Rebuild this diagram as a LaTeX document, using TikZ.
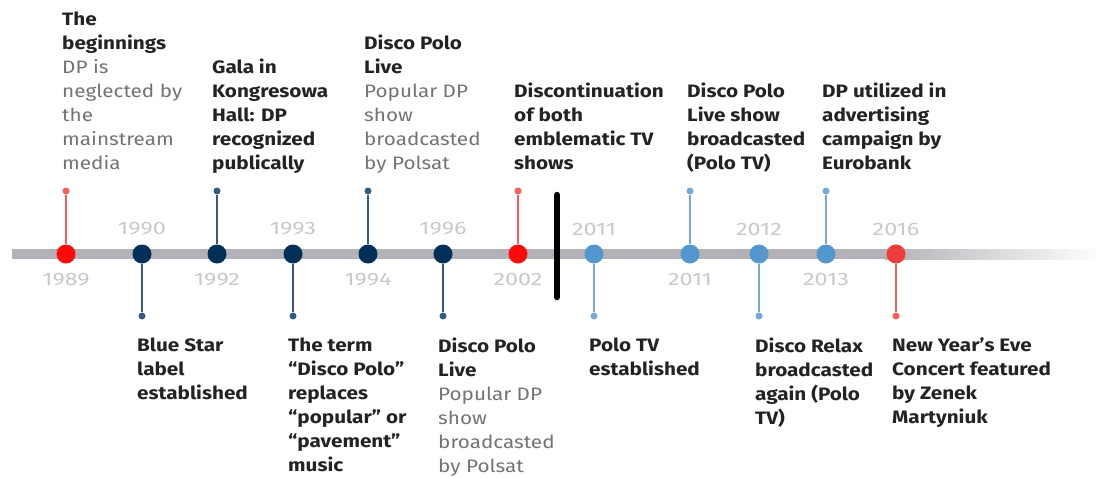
\documentclass[tikz,border=0pt]{standalone}
\usepackage{fontspec}
\setmainfont{Fira Sans}[FakeStretch=1.15]
\newfontfamily\yrfont{Fira Sans}[FakeStretch=1.3]
\definecolor{axisgray}{RGB}{178,178,184}
\definecolor{navy}{RGB}{0,48,87}
\definecolor{navystem}{RGB}{55,90,130}
\definecolor{lblue}{RGB}{84,150,206}
\definecolor{lbluestem}{RGB}{115,168,215}
\definecolor{redA}{RGB}{255,10,10}
\definecolor{redB}{RGB}{240,60,60}
\definecolor{redstem}{RGB}{255,90,90}
\definecolor{yeargray}{RGB}{200,200,205}
\definecolor{titlecol}{RGB}{35,35,35}
\definecolor{desccol}{RGB}{115,115,115}
\newcommand{\evT}[1]{\textbf{#1}}
\newcommand{\evD}[1]{\textcolor{desccol}{#1}}
\begin{document}
\begin{tikzpicture}[x=1pt,y=-1pt,
  dot/.style={circle,inner sep=0pt,minimum size=19pt,fill=#1},
  enddot/.style={circle,inner sep=0pt,minimum size=7pt,fill=#1},
  stemline/.style={draw=#1,line width=2pt},
  yr/.style={font=\yrfont\fontsize{18}{22}\selectfont,text=yeargray,inner sep=0pt},
  evtext/.style={font=\fontsize{18}{24}\selectfont,text=titlecol,align=left,inner sep=0pt,
    execute at begin node=\strut, execute at end node=\strut},
  evtop/.style={evtext,anchor=south west},
  evbot/.style={evtext,anchor=north west}]
\useasboundingbox (0,0) rectangle (1106,477);
% axis
\fill[axisgray] (12,249) rectangle (885,259);
\shade[left color=axisgray,right color=white] (885,249) rectangle (1100,259);
% break bar
\draw[line width=6.5pt,line cap=round,black] (557,195) -- (557,297);
% dots
\node[dot=redA]  (d1)  at (66,254) {};
\node[dot=navy]  (d2)  at (142,254) {};
\node[dot=navy]  (d3)  at (217,254) {};
\node[dot=navy]  (d4)  at (293,254) {};
\node[dot=navy]  (d5)  at (368,254) {};
\node[dot=navy]  (d6)  at (443,254) {};
\node[dot=redA]  (d7)  at (518,254) {};
\node[dot=lblue] (d8)  at (594,254) {};
\node[dot=lblue] (d9)  at (690,254) {};
\node[dot=lblue] (d10) at (759,254) {};
\node[dot=lblue] (d11) at (826,254) {};
\node[dot=redB]  (d12) at (896,254) {};
% stem ends
\node[enddot=redstem]   (t1)  at (66,191) {};
\node[enddot=navystem]  (t2)  at (142,316) {};
\node[enddot=navystem]  (t3)  at (217,191) {};
\node[enddot=navystem]  (t4)  at (293,316) {};
\node[enddot=navystem]  (t5)  at (368,191) {};
\node[enddot=navystem]  (t6)  at (443,316) {};
\node[enddot=redstem]   (t7)  at (518,191) {};
\node[enddot=lbluestem] (t8)  at (594,316) {};
\node[enddot=lbluestem] (t9)  at (690,191) {};
\node[enddot=lbluestem] (t10) at (759,316) {};
\node[enddot=lbluestem] (t11) at (826,191) {};
\node[enddot=redstem]   (t12) at (896,316) {};
\draw[stemline=redstem]   (d1) -- (t1);
\draw[stemline=navystem]  (d2) -- (t2);
\draw[stemline=navystem]  (d3) -- (t3);
\draw[stemline=navystem]  (d4) -- (t4);
\draw[stemline=navystem]  (d5) -- (t5);
\draw[stemline=navystem]  (d6) -- (t6);
\draw[stemline=redstem]   (d7) -- (t7);
\draw[stemline=lbluestem] (d8) -- (t8);
\draw[stemline=lbluestem] (d9) -- (t9);
\draw[stemline=lbluestem] (d10) -- (t10);
\draw[stemline=lbluestem] (d11) -- (t11);
\draw[stemline=redstem]   (d12) -- (t12);
% years
\node[yr] (y1)  at (66,279.5)  {1989};
\node[yr] (y2)  at (142,229) {1990};
\node[yr] (y3)  at (217,279.5) {1992};
\node[yr] (y4)  at (293,229) {1993};
\node[yr] (y5)  at (368,279.5) {1994};
\node[yr] (y6)  at (443,229) {1996};
\node[yr] (y7)  at (518,279.5) {2002};
\node[yr] (y8)  at (594,229) {2011};
\node[yr] (y9)  at (690,279.5) {2011};
\node[yr] (y10) at (759,229) {2012};
\node[yr] (y11) at (826,279.5) {2013};
\node[yr] (y12) at (896,229) {2016};
% top texts
\node[evtop] (e1) at (62,177) {\evT{The}\\\evT{beginnings}\\\evD{DP is}\\\evD{neglected by}\\\evD{the}\\\evD{mainstream}\\\evD{media}};
\node[evtop] (e3) at (212,177) {\evT{Gala in}\\\evT{Kongresowa}\\\evT{Hall: DP}\\\evT{recognized}\\\evT{publically}};
\node[evtop] (e5) at (364,177) {\evT{Disco Polo}\\\evT{Live}\\\evD{Popular DP}\\\evD{show}\\\evD{broadcasted}\\\evD{by Polsat}};
\node[evtop] (e7) at (514,177) {\evT{Discontinuation}\\\evT{of both}\\\evT{emblematic TV}\\\evT{shows}};
\node[evtop] (e9) at (687,177) {\evT{Disco Polo}\\\evT{Live show}\\\evT{broadcasted}\\\evT{(Polo TV)}};
\node[evtop] (e11) at (822,177) {\evT{DP utilized in}\\\evT{advertising}\\\evT{campaign by}\\\evT{Eurobank}};
% bottom texts
\node[evbot] (e2) at (137,338) {\evT{Blue Star}\\\evT{label}\\\evT{established}};
\node[evbot] (e4) at (288,338) {\evT{The term}\\\evT{“Disco Polo”}\\\evT{replaces}\\\evT{“popular” or}\\\evT{“pavement”}\\\evT{music}};
\node[evbot] (e6) at (438,338) {\evT{Disco Polo}\\\evT{Live}\\\evD{Popular DP}\\\evD{show}\\\evD{broadcasted}\\\evD{by Polsat}};
\node[evbot] (e8) at (589,338) {\evT{Polo TV}\\\evT{established}};
\node[evbot] (e10) at (755,338) {\evT{Disco Relax}\\\evT{broadcasted}\\\evT{again (Polo}\\\evT{TV)}};
\node[evbot] (e12) at (892,338) {\evT{New Year’s Eve}\\\evT{Concert featured}\\\evT{by Zenek}\\\evT{Martyniuk}};
\end{tikzpicture}
\end{document}
